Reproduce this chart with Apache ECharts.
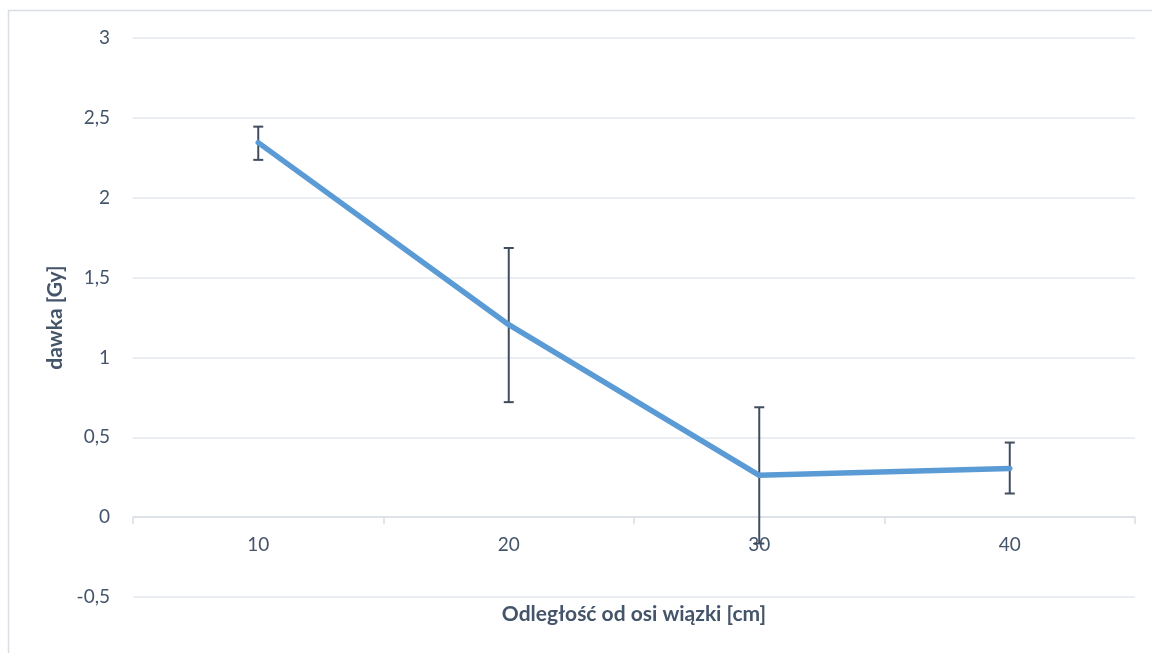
<!DOCTYPE html>
<html>
<head>
<meta charset="utf-8">
<script src="https://cdn.jsdelivr.net/npm/echarts@6/dist/echarts.min.js"></script>
<style>
html,body{margin:0;padding:0;background:#fff;}
#chart{width:1152px;height:653px;}
</style>
</head>
<body>
<div id="chart"></div>
<script>
const categories = ['10', '20', '30', '40'];
const doseValues = [2.345, 1.205, 0.262, 0.305];
const errorLow = [2.237, 0.72, -0.165, 0.148];
const errorHigh = [2.445, 1.685, 0.688, 0.467];
const yTicks = { min: -0.5, max: 3, interval: 0.5 };

const textColor = '#44546A';
const fontFam = 'Lato, "Open Sans", sans-serif';

const errorData = categories.map((c, i) => [i, errorLow[i], errorHigh[i]]);

const chart = echarts.init(document.getElementById('chart'));
chart.setOption({
  animation: false,
  backgroundColor: '#fff',
  graphic: [{
    type: 'rect',
    shape: { x: 8.5, y: 10.5, width: 1200, height: 700 },
    style: { fill: 'none', stroke: '#D9DEE5', lineWidth: 1.5 },
    silent: true, z: -1
  }],
  grid: { left: 133, right: 17, top: 38, bottom: 56, containLabel: false, outerBoundsMode: 'none' },
  xAxis: {
    type: 'category',
    data: categories,
    boundaryGap: true,
    axisLine: { onZero: true, lineStyle: { color: '#D9DEE5', width: 1.5 } },
    axisTick: { show: true, length: 7, lineStyle: { color: '#D9DEE5', width: 1.5 } },
    axisLabel: { color: textColor, fontSize: 19, fontFamily: fontFam, margin: -62 },
    name: 'Odległość od osi wiązki [cm]',
    nameLocation: 'middle',
    nameGap: 7,
    nameMoveOverlap: false,
    nameTextStyle: { color: textColor, fontSize: 21, fontWeight: 'bold', fontFamily: fontFam, verticalAlign: 'top' }
  },
  yAxis: {
    type: 'value',
    min: yTicks.min, max: yTicks.max, interval: yTicks.interval,
    axisLine: { show: false },
    axisTick: { show: false },
    splitLine: { lineStyle: { color: '#E3E7EC', width: 1.5 } },
    axisLabel: {
      color: textColor, fontSize: 19, fontFamily: fontFam, margin: 23,
      formatter: v => String(v).replace('.', ',')
    },
    name: 'dawka [Gy]',
    nameLocation: 'middle',
    nameGap: 67,
    nameRotate: 90,
    nameTextStyle: { color: textColor, fontSize: 21, fontWeight: 'bold', fontFamily: fontFam }
  },
  series: [
    {
      type: 'custom',
      data: errorData,
      z: 2,
      renderItem: function (params, api) {
        const x = api.value(0);
        const lo = api.coord([x, api.value(1)]);
        const hi = api.coord([x, api.value(2)]);
        const cap = 5;
        const st = { stroke: '#404D5E', lineWidth: 2, fill: 'none' };
        return {
          type: 'group',
          children: [
            { type: 'line', shape: { x1: lo[0], y1: lo[1], x2: hi[0], y2: hi[1] }, style: st },
            { type: 'line', shape: { x1: lo[0] - cap, y1: lo[1], x2: lo[0] + cap, y2: lo[1] }, style: st },
            { type: 'line', shape: { x1: hi[0] - cap, y1: hi[1], x2: hi[0] + cap, y2: hi[1] }, style: st }
          ]
        };
      }
    },
    {
      type: 'line',
      data: doseValues,
      z: 3,
      showSymbol: false,
      symbol: 'none',
      lineStyle: { color: '#5B9BD5', width: 5.5, cap: 'round', join: 'round' }
    }
  ]
});
</script>
</body>
</html>
